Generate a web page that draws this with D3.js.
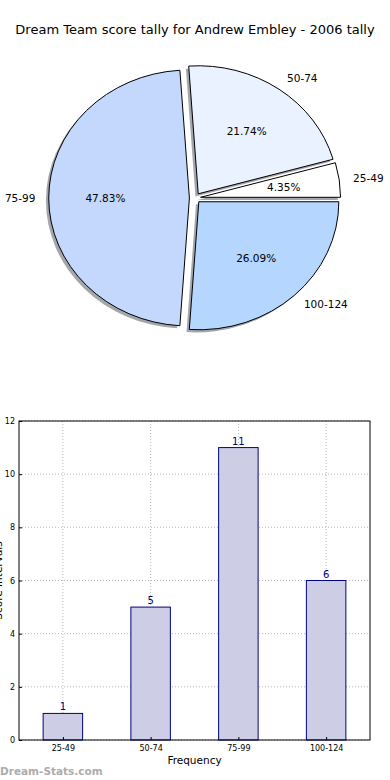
<!DOCTYPE html>
<html>
  <head>
    <style>
      body { margin: 0; background: #fff; font-family: "DejaVu Sans", sans-serif; }
      svg text { font-family: "DejaVu Sans", sans-serif; }
    </style>
  </head>
  <body>
    <div id="main-viz"></div>
    <script src="https://d3js.org/d3.v7.min.js"></script>
    <script>
      // data
      var categories = ["25-49", "50-74", "75-99", "100-124"];
      var counts = [1, 5, 11, 6];
      var sliceColors = ["#ffffff", "#eaf1ff", "#c4d8fe", "#b4d6ff"];
      var yTicks = [0, 2, 4, 6, 8, 10, 12];

      var svg = d3.select("#main-viz")
        .append("svg")
          .attr("width", 390)
          .attr("height", 780);

      svg.append("text")
        .attr("x", 195)
        .attr("y", 34)
        .attr("text-anchor", "middle")
        .style("font-size", "13px")
        .text("Dream Team score tally for Andrew Embley - 2006 tally");

      // ---- pie (elliptical, like an un-squared matplotlib axes) ----
      var cx = 195, cy = 198, rx = 140, ry = 128, explode = 0.04;
      var total = d3.sum(counts);

      var pie = d3.pie()
        .sort(null)
        .startAngle(Math.PI / 2)
        .endAngle(Math.PI / 2 - 2 * Math.PI);

      var arc = d3.arc().innerRadius(0).outerRadius(1);

      var slices = pie(counts).map(function(d, i) {
        var mid = (d.startAngle + d.endAngle) / 2;
        var ux = Math.sin(mid), uy = -Math.cos(mid);
        return {
          arc: d, i: i,
          ux: ux, uy: uy,
          x: cx + explode * rx * ux,
          y: cy + explode * ry * uy
        };
      });

      var pieG = svg.append("g");

      // shadows first, underneath every wedge
      pieG.selectAll("path.shadow")
        .data(slices)
        .enter()
        .append("path")
          .attr("class", "shadow")
          .attr("transform", function(d) {
            return "translate(" + (d.x - 2.8) + "," + (d.y + 2.6) + ") scale(" + rx + "," + ry + ")";
          })
          .attr("d", function(d) { return arc(d.arc); })
          .style("fill", "#a3a6ab")
          .style("stroke", "none");

      pieG.selectAll("path.wedge")
        .data(slices)
        .enter()
        .append("path")
          .attr("class", "wedge")
          .attr("transform", function(d) {
            return "translate(" + d.x + "," + d.y + ") scale(" + rx + "," + ry + ")";
          })
          .attr("d", function(d) { return arc(d.arc); })
          .attr("vector-effect", "non-scaling-stroke")
          .style("fill", function(d) { return sliceColors[d.i]; })
          .style("stroke", "#000")
          .style("stroke-width", 1);

      pieG.selectAll("text.lab")
        .data(slices)
        .enter()
        .append("text")
          .attr("class", "lab")
          .attr("x", function(d) { return d.x + 1.1 * rx * d.ux; })
          .attr("y", function(d) { return d.y + 1.1 * ry * d.uy; })
          .attr("dy", "0.35em")
          .attr("text-anchor", function(d) { return d.ux > 0 ? "start" : "end"; })
          .style("font-size", "10.5px")
          .text(function(d) { return categories[d.i]; });

      pieG.selectAll("text.pct")
        .data(slices)
        .enter()
        .append("text")
          .attr("class", "pct")
          .attr("x", function(d) { return d.x + 0.6 * rx * d.ux; })
          .attr("y", function(d) { return d.y + 0.6 * ry * d.uy; })
          .attr("dy", "0.35em")
          .attr("text-anchor", "middle")
          .style("font-size", "10.5px")
          .text(function(d) { return (100 * counts[d.i] / total).toFixed(2) + "%"; });

      // ---- bar chart ----
      var plotLeft = 19, plotRight = 370, plotTop = 421, plotBottom = 740;

      var x = d3.scalePoint()
        .domain(categories)
        .range([plotLeft, plotRight])
        .padding(0.5);

      var y = d3.scaleLinear()
        .domain([0, 12])
        .range([plotBottom, plotTop]);

      var barW = x.step() * 0.45;

      var grid = svg.append("g")
        .style("stroke", "#b8b8b8")
        .style("stroke-dasharray", "1,2");

      grid.selectAll("line.h")
        .data(yTicks)
        .enter()
        .append("line")
          .attr("x1", plotLeft).attr("x2", plotRight)
          .attr("y1", function(d) { return y(d); })
          .attr("y2", function(d) { return y(d); });

      grid.selectAll("line.v")
        .data(categories)
        .enter()
        .append("line")
          .attr("y1", plotTop).attr("y2", plotBottom)
          .attr("x1", function(d) { return x(d); })
          .attr("x2", function(d) { return x(d); });

      svg.append("g")
        .selectAll("rect")
        .data(categories)
        .enter()
        .append("rect")
          .attr("x", function(d) { return x(d) - barW / 2; })
          .attr("y", function(d, i) { return y(counts[i]); })
          .attr("width", barW)
          .attr("height", function(d, i) { return plotBottom - y(counts[i]); })
          .style("fill", "#cdcde5")
          .style("stroke", "#000080")
          .style("stroke-width", 1);

      svg.append("g")
        .selectAll("text")
        .data(categories)
        .enter()
        .append("text")
          .attr("x", function(d) { return x(d); })
          .attr("y", function(d, i) { return y(counts[i]) - 3; })
          .attr("text-anchor", "middle")
          .style("font-size", "10px")
          .style("fill", "#000080")
          .text(function(d, i) { return counts[i]; });

      // axes
      var yAxis = svg.append("g")
        .attr("transform", "translate(" + plotLeft + ",0)")
        .call(d3.axisLeft(y).tickValues(yTicks).tickSize(-3).tickPadding(4));
      var xAxis = svg.append("g")
        .attr("transform", "translate(0," + plotBottom + ")")
        .call(d3.axisBottom(x).tickSize(-3).tickPadding(5));
      [yAxis, xAxis].forEach(function(a) {
        a.select(".domain").remove();
        a.selectAll(".tick line").style("stroke", "#000");
        a.selectAll(".tick text").style("font-size", "8px").style("fill", "#000");
      });

      svg.append("rect")
        .attr("x", plotLeft).attr("y", plotTop)
        .attr("width", plotRight - plotLeft).attr("height", plotBottom - plotTop)
        .style("fill", "none")
        .style("stroke", "#000")
        .style("stroke-width", 1);

      svg.append("text")
        .attr("x", (plotLeft + plotRight) / 2)
        .attr("y", 764)
        .attr("text-anchor", "middle")
        .style("font-size", "10.5px")
        .text("Frequency");

      svg.append("text")
        .attr("transform", "translate(2," + ((plotTop + plotBottom) / 2) + ") rotate(-90)")
        .attr("text-anchor", "middle")
        .style("font-size", "10.5px")
        .text("Score Intervals");

      svg.append("text")
        .attr("x", 0)
        .attr("y", 775)
        .style("font-size", "10.5px")
        .style("font-weight", "bold")
        .style("fill", "#acacac")
        .text("Dream-Stats.com");
    </script>
  </body>
</html>
